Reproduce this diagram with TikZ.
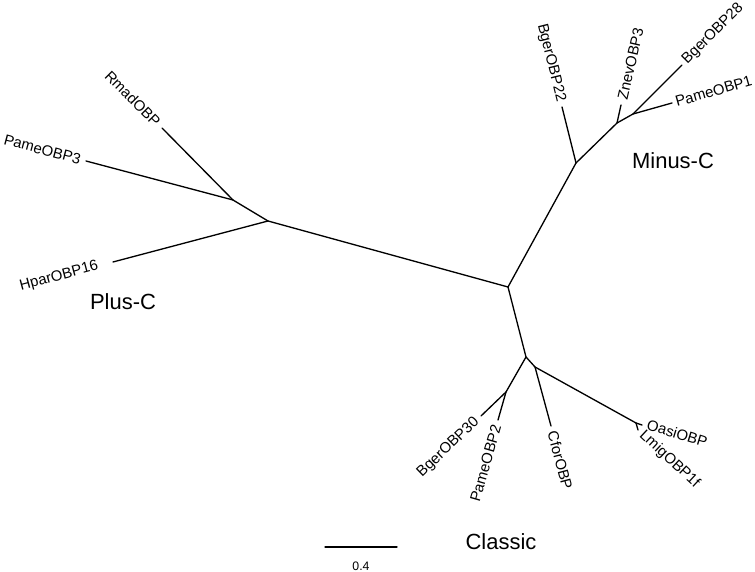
\documentclass[tikz,border=0pt]{standalone}
\usepackage{fontspec}
\setmainfont{Liberation Sans}
\usepackage{tikz}
\usetikzlibrary{calc}
\tikzset{
  branch/.style={line width=0.75pt,line cap=round,line join=round},
  taxon/.style={font=\fontsize{8.5}{10}\selectfont,inner sep=3pt},
  clade/.style={font=\fontsize{12.5}{14}\selectfont}
}

\begin{document}
\begin{tikzpicture}
    \useasboundingbox (0,0) rectangle (15.1,11.44);

    % inner nodes
    \coordinate (root) at (10.16,5.70);
    \coordinate (plusA) at (5.36,7.02);
    \coordinate (plusB) at (4.66,7.44);
    \coordinate (minC) at (11.52,8.18);
    \coordinate (minD) at (12.34,8.98);
    \coordinate (minE) at (12.66,9.16);
    \coordinate (clsF) at (10.52,4.30);
    \coordinate (clsG) at (10.12,3.60);
    \coordinate (clsH) at (10.70,4.10);
    \coordinate (clsI) at (12.72,2.98);

    % tips
    \coordinate (rmad) at (3.24,8.88);
    \coordinate (pame3) at (1.72,8.22);
    \coordinate (hpar16) at (2.26,6.20);
    \coordinate (bger22) at (11.24,9.30);
    \coordinate (znev3) at (12.42,9.34);
    \coordinate (bger28) at (13.64,10.14);
    \coordinate (pame1) at (13.44,9.38);
    \coordinate (bger30) at (9.62,3.12);
    \coordinate (pame2) at (9.96,3.04);
    \coordinate (cfor) at (11.02,2.92);
    \coordinate (oasi) at (12.84,2.94);
    \coordinate (lmig1f) at (12.76,2.84);

    % Plus-C
    \draw[branch] (root) -- (plusA);
    \draw[branch] (plusA) -- (plusB);
    \draw[branch] (plusB) -- (rmad);
    \draw[branch] (plusB) -- (pame3);
    \draw[branch] (plusA) -- (hpar16);

    % Minus-C
    \draw[branch] (root) -- (minC);
    \draw[branch] (minC) -- (bger22);
    \draw[branch] (minC) -- (minD);
    \draw[branch] (minD) -- (znev3);
    \draw[branch] (minD) -- (minE);
    \draw[branch] (minE) -- (bger28);
    \draw[branch] (minE) -- (pame1);

    % Classic
    \draw[branch] (root) -- (clsF);
    \draw[branch] (clsF) -- (clsG);
    \draw[branch] (clsG) -- (bger30);
    \draw[branch] (clsG) -- (pame2);
    \draw[branch] (clsF) -- (clsH);
    \draw[branch] (clsH) -- (cfor);
    \draw[branch] (clsH) -- (clsI);
    \draw[branch] (clsI) -- (oasi);
    \draw[branch] (clsI) -- (lmig1f);

    % taxon labels
    \node[taxon,anchor=east,rotate=-45] (lrmad) at (rmad) {RmadOBP};
    \node[taxon,anchor=east,rotate=-15] (lpame3) at (pame3) {PameOBP3};
    \node[taxon,anchor=east,rotate=15,xshift=-0.2cm] (lhpar16) at (hpar16) {HparOBP16};
    \node[taxon,anchor=east,rotate=-76] (lbger22) at (bger22) {BgerOBP22};
    \node[taxon,anchor=west,rotate=77] (lznev3) at (znev3) {ZnevOBP3};
    \node[taxon,anchor=west,rotate=45,inner sep=2pt] (lbger28) at (bger28) {BgerOBP28};
    \node[taxon,anchor=west,rotate=16,inner sep=2pt] (lpame1) at (pame1) {PameOBP1};
    \node[taxon,anchor=east,rotate=44] (lbger30) at (bger30) {BgerOBP30};
    \node[taxon,anchor=east,rotate=74] (lpame2) at (pame2) {PameOBP2};
    \node[taxon,anchor=west,rotate=-75] (lcfor) at (cfor) {CforOBP};
    \node[taxon,anchor=west,rotate=-17,inner sep=2.5pt] (loasi) at ($(oasi)+(0.02,0.04)$) {OasiOBP};
    \node[taxon,anchor=west,rotate=-43,inner sep=2.5pt] (llmig1f) at (lmig1f) {LmigOBP1f};

    % clade names
    \node[clade] (plusc) at (2.46,5.40) {Plus-C};
    \node[clade] (minusc) at (13.46,8.22) {Minus-C};
    \node[clade] (classic) at (10.02,0.60) {Classic};

    % scale bar
    \coordinate (barl) at (6.50,0.50);
    \coordinate (barr) at (7.94,0.50);
    \draw[branch] (barl) -- (barr);
    \node[font=\fontsize{7}{8}\selectfont] (barlab) at (7.22,0.12) {0.4};
\end{tikzpicture}
\end{document}
